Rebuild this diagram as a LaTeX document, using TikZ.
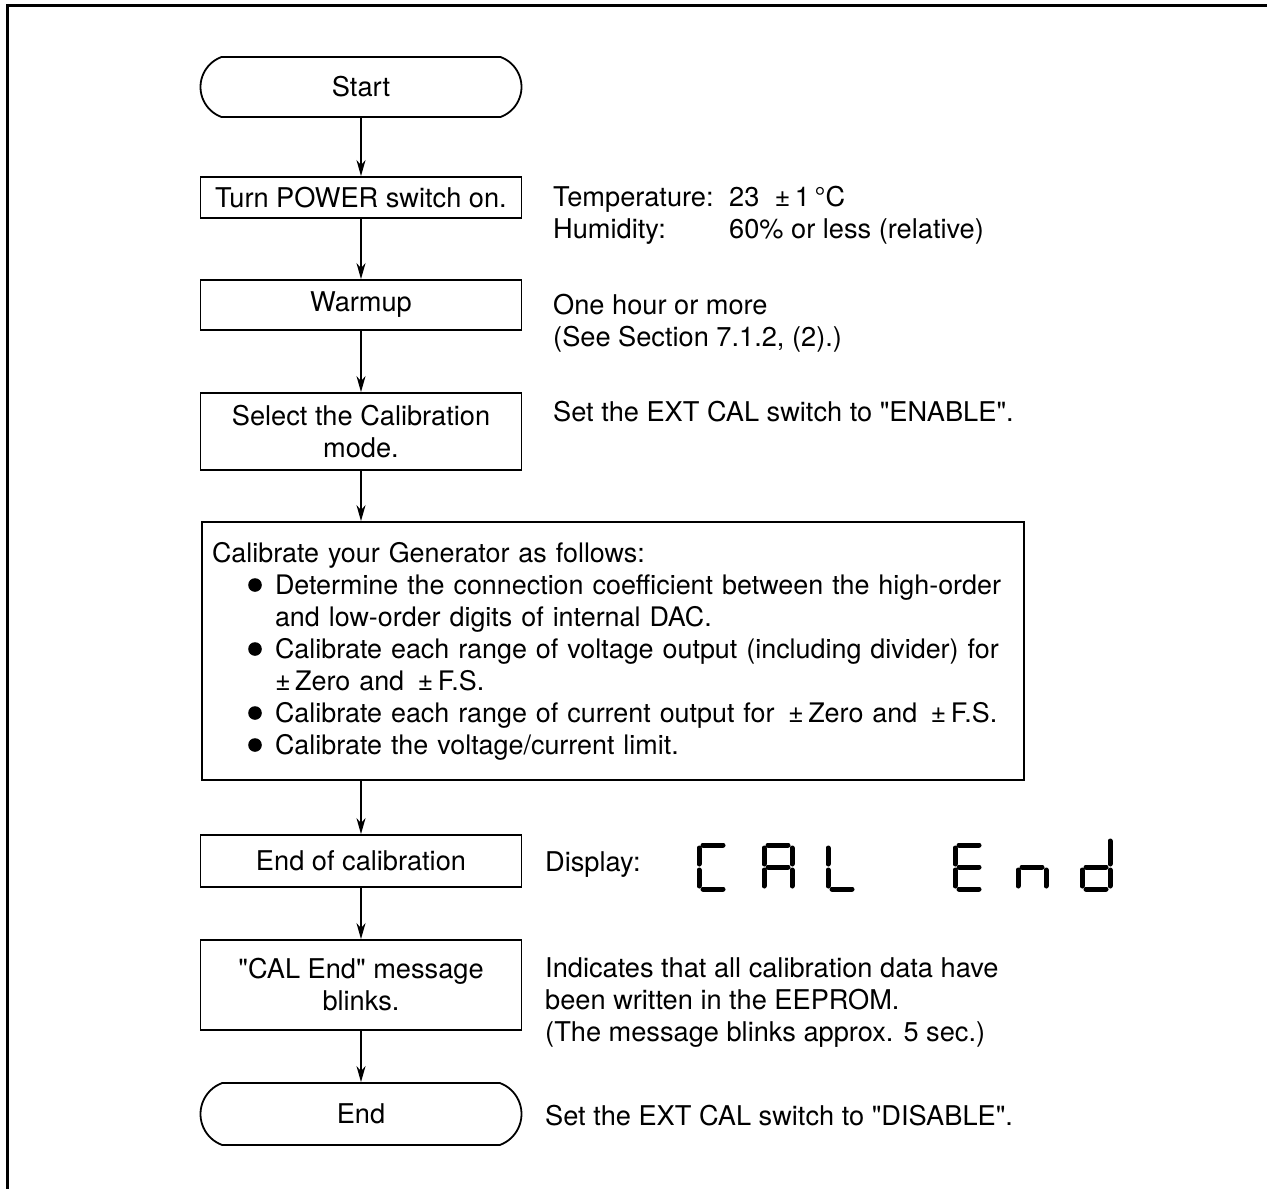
\documentclass[tikz,border=0pt]{standalone}
\usepackage{fontspec}
\setmainfont{TeX Gyre Heros}
\newfontfamily\plainheros{TeX Gyre Heros}
\usetikzlibrary{arrows.meta,shapes.misc}
\newcommand{\dq}{{\plainheros\char34}}
\newcommand{\myind}{\hspace*{63pt}}
% seven segment display segments, #1 = left x
\newcommand{\sgA}[1]{\draw[seg] (#1+4,845) -- (#1+24,845);}
\newcommand{\sgB}[1]{\draw[seg] (#1+28,848) -- (#1+28,864);}
\newcommand{\sgC}[1]{\draw[seg] (#1+28,870) -- (#1+28,886);}
\newcommand{\sgD}[1]{\draw[seg] (#1+4,889) -- (#1+24,889);}
\newcommand{\sgE}[1]{\draw[seg] (#1,870) -- (#1,886);}
\newcommand{\sgF}[1]{\draw[seg] (#1,848) -- (#1,864);}
\newcommand{\sgG}[1]{\draw[seg] (#1+4,867) -- (#1+24,867);}
\begin{document}
\begin{tikzpicture}[x=1pt,y=-1pt,
  every node/.style={font=\fontsize{27.2}{32}\selectfont, inner sep=0pt},
  box/.style={draw, line width=1.8pt, minimum width=321pt, align=center},
  term/.style={draw, line width=1.8pt, rounded rectangle, rounded rectangle arc length=140, minimum width=321pt, minimum height=60pt},
  flow/.style={line width=1.8pt, -{Stealth[length=16pt,width=9pt,inset=5pt]}},
  note/.style={anchor=base west},
  seg/.style={line width=5pt, line cap=round}]
\useasboundingbox (0,0) rectangle (1267,1189);
\draw[line width=3pt] (7,1189) -- (7,5) -- (1267,5);

% flow nodes
\node[term] (start) at (361,87) {Start};
\node[box, minimum height=41pt] (power) at (361,197.5) {Turn POWER switch on.};
\node[box, minimum height=50pt] (warm) at (361,305) {Warmup};
\node[box, minimum height=77pt] (select) at (361,431.5) {Select the Calibration\\mode.};
\node[draw, line width=1.8pt, minimum width=822pt, minimum height=258pt, align=left, text width=802pt, inner xsep=10pt, font=\fontsize{26.9}{32}\selectfont] (calib) at (613,651) {%
\mbox{Calibrate your Generator as follows:}\\
\mbox{\myind Determine the connection coefficient between the high-order}\\
\mbox{\myind and low-order digits of internal DAC.}\\
\mbox{\myind Calibrate each range of voltage output (including divider) for}\\
\mbox{\myind ±\,Zero and \,±\,F.S.}\\
\mbox{\myind Calibrate each range of current output for \,±\,Zero and \,±\,F.S.}\\
\mbox{\myind Calibrate the voltage/current limit.}};
% list bullets
\fill (255,585) circle (6.8);
\fill (255,649) circle (6.8);
\fill (255,713) circle (6.8);
\fill (255,745) circle (6.8);
\node[box, minimum height=52pt] (endcal) at (361,861) {End of calibration};
\node[box, minimum height=90pt] (blink) at (361,985) {\dq CAL End\dq\ message\\blinks.};
\node[term, minimum height=62pt] (stop) at (361,1114) {End};

% connectors
\draw[flow] (start) -- (power);
\draw[flow] (power) -- (warm);
\draw[flow] (warm) -- (select);
\draw[flow] (select.south) -- (select.south |- calib.north);
\draw[flow] (calib.south -| endcal.north) -- (endcal.north);
\draw[flow] (endcal) -- (blink);
\draw[flow] (blink) -- (stop);

% notes
\node[note] (n1) at (553,206) {Temperature:};
\node[note] (n1v) at (729,206) {23\ \ ±\,1\,°C};
\node[note] (n2) at (553,238) {Humidity:};
\node[note] (n2v) at (729,238) {60\% or less (relative)};
\node[note] (n3) at (553,314) {One hour or more};
\node[note] (n4) at (553,346) {(See Section 7.1.2, (2).)};
\node[note] (n5) at (553,421) {Set the EXT CAL switch to \dq ENABLE\dq.};
\node[note] (n6) at (545,871) {Display:};
\node[note] (n7) at (545,977) {Indicates that all calibration data have};
\node[note] (n8) at (545,1009) {been written in the EEPROM.};
\node[note] (n9) at (545,1041) {(The message blinks approx. 5 sec.)};
\node[note] (n10) at (545,1125) {Set the EXT CAL switch to \dq DISABLE\dq.};

% seven-segment "CAL End"
% C
\sgA{699}\sgD{699}\sgE{699}\sgF{699}
% A
\sgA{764}\sgB{764}\sgC{764}\sgE{764}\sgF{764}\sgG{764}
% L
\sgD{828}\sgE{828}\sgF{828}
% E
\sgA{955}\sgD{955}\sgE{955}\sgF{955}\sgG{955}
% n
\sgC{1018}\sgE{1018}\sgG{1018}
% d
\draw[seg] (1110,841) -- (1110,864);
\sgC{1082}\sgD{1082}\sgE{1082}\sgG{1082}
\end{tikzpicture}
\end{document}
